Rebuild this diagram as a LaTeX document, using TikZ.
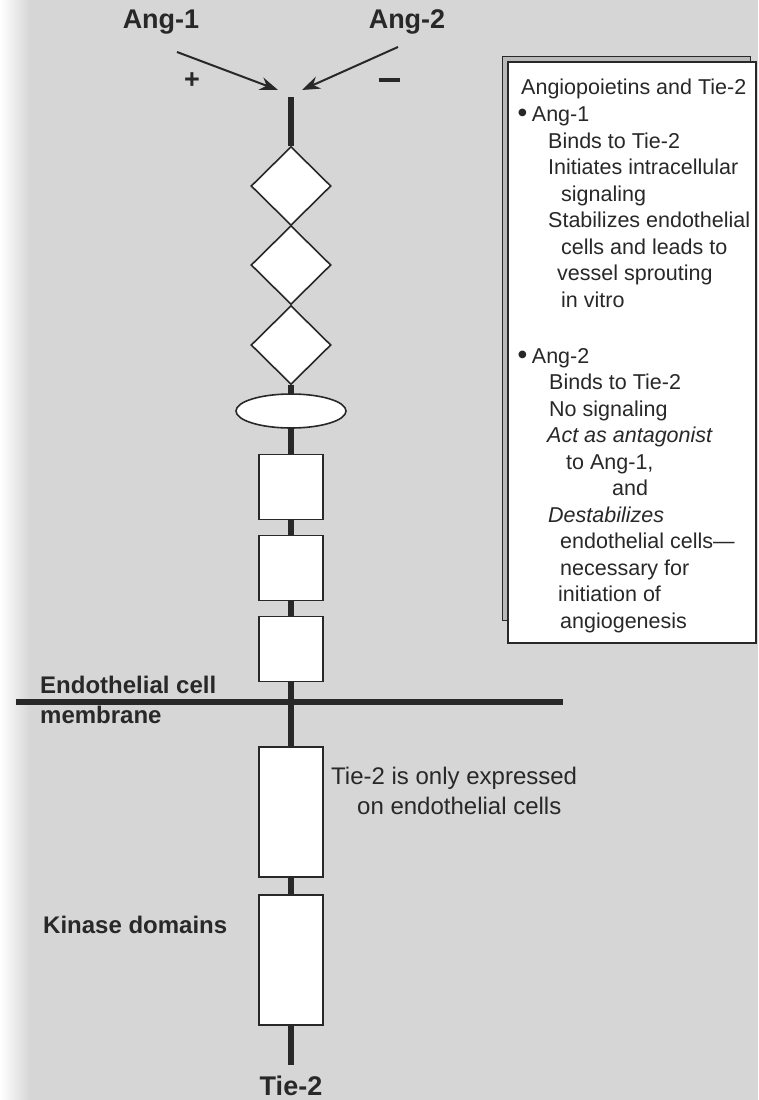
\documentclass[tikz,border=0pt]{standalone}
\usepackage{fontspec}
\setmainfont{Liberation Sans}
\newfontfamily\symfont{DejaVu Sans}
\usetikzlibrary{shapes.geometric,arrows.meta}
\definecolor{bggray}{RGB}{214,214,214}
\definecolor{inkgray}{RGB}{40,40,40}
\tikzset{
  protbox/.style={draw=inkgray, line width=1.6pt, fill=white, inner sep=0pt},
  igdomain/.style={protbox, diamond, minimum width=80pt, minimum height=79pt},
  sqdomain/.style={protbox, rectangle, minimum width=64pt, minimum height=65pt},
  kindomain/.style={protbox, rectangle, minimum width=64pt, minimum height=130pt},
  stemline/.style={draw=inkgray, line width=6pt},
  biglabel/.style={font=\fontsize{27}{29}\selectfont\bfseries, text=inkgray, inner sep=0pt},
  sidelabel/.style={font=\fontsize{24}{30}\selectfont\bfseries, text=inkgray, anchor=base west, inner sep=0pt},
  sidetext/.style={font=\fontsize{24}{30}\selectfont, text=inkgray, anchor=base west, inner sep=0pt},
  boxtext/.style={font=\fontsize{21.5}{25}\selectfont, text=inkgray, anchor=base west, inner sep=0pt},
  ligand/.style={-{Stealth[length=18pt,width=13pt]}, line width=2pt, draw=inkgray},
}
\newcommand{\dotmark}{\raisebox{6pt}{\symfont\fontsize{10}{10}\selectfont ●}\hspace{5pt}}
\begin{document}
\begin{tikzpicture}[x=1pt, y=-1pt]
  \useasboundingbox (0,0) rectangle (758,1100);
  % el fondo gris
  \fill[bggray] (0,0) rectangle (758,1100);
  \shade[left color=white, right color=bggray] (0,0) rectangle (30,1100);

  % los ligandos y sus flechas
  \node[biglabel] (ang1) at (161,22) {Ang-1};
  \node[biglabel] (ang2) at (407,22) {Ang-2};
  \node[biglabel] (plus) at (192,81) {+};
  \node[biglabel] (minus) at (389,80) {\rule{21pt}{3.5pt}};
  \coordinate (a1tail) at (177,52);
  \coordinate (a1tip) at (278,90);
  \coordinate (a2tail) at (398,47);
  \coordinate (a2tip) at (302,90);
  \draw[ligand] (a1tail) -- (a1tip);
  \draw[ligand] (a2tail) -- (a2tip);

  % el receptor Tie-2
  \coordinate (stemtop) at (291,97);
  \coordinate (stembot) at (291,1065);
  \node[igdomain] (ig1) at (291,186) {};
  \node[igdomain] (ig2) at (291,265) {};
  \node[igdomain] (ig3) at (291,345) {};
  \node[protbox, ellipse, minimum width=110pt, minimum height=34pt] (egf) at (291,411) {};
  \node[sqdomain] (fn1) at (291,487) {};
  \node[sqdomain] (fn2) at (291,568) {};
  \node[sqdomain] (fn3) at (291,649) {};
  \node[kindomain] (kin1) at (291,812) {};
  \node[kindomain] (kin2) at (291,960) {};
  \draw[stemline] (stemtop) -- (ig1.north);
  \draw[stemline] (ig3.south) -- (egf.north);
  \draw[stemline] (egf.south) -- (fn1.north);
  \draw[stemline] (fn1.south) -- (fn2.north);
  \draw[stemline] (fn2.south) -- (fn3.north);
  \draw[stemline] (fn3.south) -- (kin1.north);
  \draw[stemline] (kin1.south) -- (kin2.north);
  \draw[stemline] (kin2.south) -- (stembot);
  \node[biglabel] (tie2) at (291,1086) {Tie-2};

  % la membrana
  \coordinate (memL) at (16,702);
  \coordinate (memR) at (563,702);
  \draw[stemline] (memL) -- (memR);
  \node[sidelabel] (memtext1) at (40,693) {Endothelial cell};
  \node[sidelabel] (memtext2) at (40,723) {membrane};
  \node[sidelabel] (kintext) at (43,933) {Kinase domains};
  \node[sidetext] (expr1) at (331,784) {Tie-2 is only expressed};
  \node[sidetext] (expr2) at (357,814) {on endothelial cells};

  % el cuadro de texto
  \filldraw[fill=gray!55, draw=inkgray, line width=1pt] (502,56) rectangle (750,620);
  \filldraw[fill=white, draw=inkgray, line width=1.2pt] (508,62) rectangle (756,643);
  \foreach \x/\y/\t [count=\i] in {
      521/94/{Angiopoietins and Tie-2},
      518/121/{\dotmark Ang-1},
      548/148/{Binds to Tie-2},
      548/174.5/{Initiates intracellular},
      561/201/{signaling},
      548/227.5/{Stabilizes endothelial},
      561/254/{cells and leads to},
      557/280.5/{vessel sprouting},
      561/307/{in vitro},
      518/363/{\dotmark Ang-2},
      549/389.5/{Binds to Tie-2},
      549/416/{No signaling},
      547/442.5/{\itshape Act as antagonist},
      566/469/{to Ang-1,},
      612/495.5/{and},
      548/522/{\itshape Destabilizes},
      560/548.5/{endothelial cells\textemdash},
      560/575/{necessary for},
      558/601.5/{initiation of},
      560/628/{angiogenesis}} {
    \node[boxtext] (line\i) at (\x,\y) {\t};
  }
\end{tikzpicture}
\end{document}
